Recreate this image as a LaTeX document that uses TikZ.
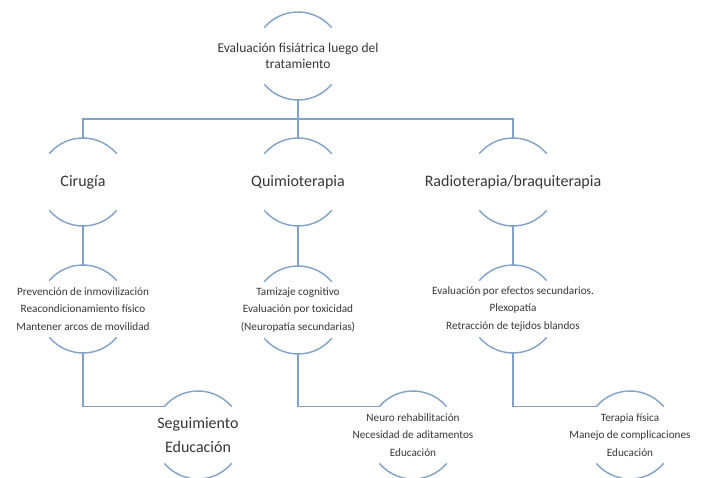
\documentclass[tikz,border=0pt]{standalone}
\usepackage{fontspec}
\setmainfont{Carlito}
\definecolor{lnblue}{RGB}{128,162,200}
\definecolor{txt}{RGB}{55,55,55}
\begin{document}
\begin{tikzpicture}[x=1pt,y=1pt,
  ring/.style={circle, minimum size=88pt, inner sep=0pt, outer sep=0pt},
  conn/.style={draw=lnblue, line width=1.4pt},
  lbl/.style={align=center, text=txt, inner sep=0pt},
  toptxt/.style={lbl, font=\fontsize{13.5}{16}\selectfont},
  bigtxt/.style={lbl, font=\fontsize{16}{24}\selectfont},
  smalltxt/.style={lbl, font=\fontsize{11.2}{17.5}\selectfont}]
\useasboundingbox (0,0) rectangle (703,478);
\fill[white] (0,0) rectangle (703,478);
% nodes
\node[ring, label={[toptxt]center:{Evaluación fisiátrica luego del\\tratamiento}}] (top) at (298,422) {};
\node[ring, label={[bigtxt]center:Cirugía}] (cir) at (83,296) {};
\node[ring, label={[bigtxt]center:Quimioterapia}] (qui) at (298,296) {};
\node[ring, label={[bigtxt]center:Radioterapia/braquiterapia}] (rad) at (513,296) {};
\node[ring, label={[smalltxt]center:{Prevención de inmovilización\\Reacondicionamiento físico\\Mantener arcos de movilidad}}] (cirb) at (83,169) {};
\node[ring, label={[smalltxt]center:{Tamizaje cognitivo\\Evaluación por toxicidad\\(Neuropatía secundarias)}}] (quib) at (298,168) {};
\node[ring, label={[smalltxt]center:{Evaluación por efectos secundarios.\\Plexopatía\\Retracción de tejidos blandos}}] (radb) at (513,169) {};
\node[ring, label={[bigtxt]center:{Seguimiento\\Educación}}] (seg) at (198,43) {};
\node[ring, label={[smalltxt]center:{Neuro rehabilitación\\Necesidad de aditamentos\\Educación}}] (neu) at (413,43) {};
\node[ring, label={[smalltxt]center:{Terapia física\\Manejo de complicaciones\\Educación}}] (ter) at (630,43) {};
\coordinate (bus) at (0,359);
% arcs
\foreach \n in {top,cir,qui,rad,cirb,quib,radb,seg,neu,ter}
  \draw[conn] (\n.40) arc[start angle=40,end angle=140,radius=44pt]
              (\n.220) arc[start angle=220,end angle=320,radius=44pt];
% connectors
\draw[conn] (top.south) -- (top.south |- bus);
\draw[conn] (cir.north) -- (cir.north |- bus) -- (rad.north |- bus) -- (rad.north);
\draw[conn] (qui.north) -- (qui.north |- bus);
\draw[conn] (cir.south) -- (cirb.north);
\draw[conn] (qui.south) -- (quib.north);
\draw[conn] (rad.south) -- (radb.north);
\draw[conn] (cirb.south) |- (seg.140);
\draw[conn] (quib.south) |- (neu.140);
\draw[conn] (radb.south) |- (ter.140);
\end{tikzpicture}
\end{document}
